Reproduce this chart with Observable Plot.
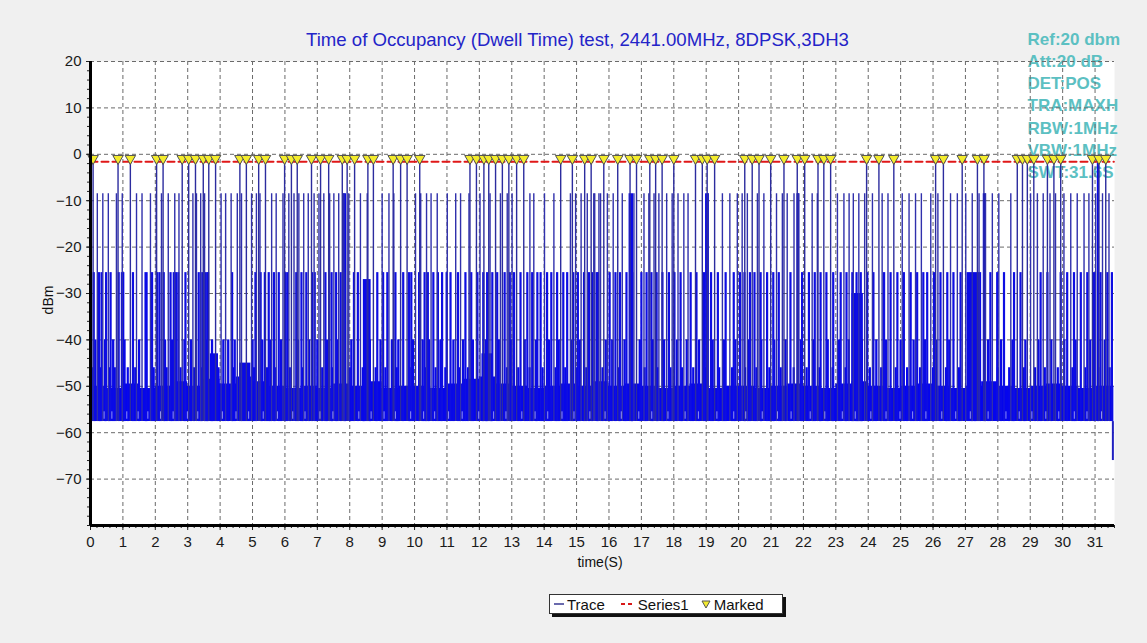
<!DOCTYPE html>
<html><head><meta charset="utf-8">
<script src="https://cdn.jsdelivr.net/npm/d3@7"></script>
<script src="https://cdn.jsdelivr.net/npm/@observablehq/plot@0.6"></script>
<style>
html,body{margin:0;padding:0;background:#f0f0f0;}
#wrap{position:relative;width:1147px;height:643px;overflow:hidden;font-family:"Liberation Sans",Arial,sans-serif;}
#chart{position:absolute;left:0;top:0;}
#title{position:absolute;left:0;top:29px;width:1155px;text-align:center;font-size:18.6px;color:#2424c8;white-space:nowrap;}
#xlab{position:absolute;left:0;width:1200px;top:554px;text-align:center;font-size:14px;color:#111;}
#ylab{position:absolute;left:48px;top:300px;transform:translate(-50%,-50%) rotate(-90deg);font-size:14px;color:#111;}
#legend{position:absolute;left:549px;top:594px;width:232px;height:18px;background:#fff;border:1px solid #333;box-shadow:3px 3px 0 #111;font-size:15px;color:#111;display:flex;align-items:center;}
#legend span{display:inline-flex;align-items:center;margin-left:4px;}
#legend svg{margin-right:3px;}
</style></head><body>
<div id="wrap">
<div id="chart"></div>
<div id="title">Time of Occupancy (Dwell Time) test, 2441.00MHz, 8DPSK,3DH3</div>
<div id="xlab">time(S)</div>
<div id="ylab">dBm</div>
<div id="legend">
 <span><svg width="10" height="10"><line x1="0" y1="5" x2="10" y2="5" stroke="#1a1a80" stroke-width="1.3"/></svg>Trace</span>
 <span style="margin-left:16px"><svg width="14" height="10"><line x1="0" y1="5" x2="14" y2="5" stroke="#d81818" stroke-width="2" stroke-dasharray="4,3"/></svg>Series1</span>
 <span style="margin-left:12px"><svg width="10" height="10"><path d="M1,2 L9,2 L5,9 Z" fill="#f2ea30" stroke="#555" stroke-width="1"/></svg>Marked</span>
</div>
</div>
<script>
// ---------- data ----------
const xTicks = [0,1,2,3,4,5,6,7,8,9,10,11,12,13,14,15,16,17,18,19,20,21,22,23,24,25,26,27,28,29,30,31];
const yTicks = [-70,-60,-50,-40,-30,-20,-10,0,10,20];
const infoLines = ["Ref:20 dbm","Att:20 dB","DET:POS","TRA:MAXH","RBW:1MHz","VBW:1MHz","SWT:31.6S"];

// pulses flagged by the marker (peak about -1.5 dBm)
const markedT = [0.08,0.85,1.23,2.04,2.24,2.83,3.03,3.24,3.48,3.65,3.86,4.61,4.81,5.19,5.40,5.99,6.20,6.38,6.82,7.10,7.35,7.77,7.92,8.15,8.56,8.73,9.34,9.57,9.77,10.16,
 11.71,11.91,12.14,12.29,12.50,12.71,12.91,13.15,13.37,14.51,14.87,15.25,15.45,15.84,16.27,16.65,16.85,17.26,17.44,17.64,18.00,18.67,18.88,19.03,19.26,20.19,20.42,20.63,20.99,21.40,21.81,
 22.04,22.45,22.63,22.84,23.95,24.33,24.79,26.08,26.32,26.90,27.37,27.57,28.60,28.76,28.91,29.11,29.53,29.73,29.94,30.92,31.12,31.33];
const markedPeak = -1.6;
const series1T = [0, 31.58];
const series1V = [-1.6, -1.6];

// pulses reaching about -8.5 dBm
const pulse8T = [0.21,0.38,0.55,0.80,0.98,1.42,1.59,1.85,2.03,2.19,2.40,2.60,2.73,3.16,3.27,3.40,3.52,4.03,4.17,4.34,4.53,4.66,4.97,5.12,5.23,5.59,5.73,5.94,6.12,6.28,6.43,6.58,6.72,6.90,7.05,7.20,7.38,7.51,7.66,
 7.82,7.97,8.33,8.54,9.00,9.21,9.36,10.03,10.19,10.37,10.51,10.70,11.01,11.27,11.42,11.68,12.02,12.33,12.65,12.86,13.01,13.56,13.68,14.01,14.30,14.81,14.97,15.14,15.33,15.53,15.69,
 15.56,15.74,15.95,16.13,16.41,16.77,17.08,17.23,17.39,17.54,17.78,17.95,18.13,18.31,18.44,19.05,19.50,19.73,19.96,20.11,20.27,20.58,20.78,21.17,21.35,21.50,21.71,21.86,22.27,22.43,23.05,23.25,23.41,
 23.54,23.71,23.89,24.13,24.43,24.61,25.05,25.26,25.46,25.64,25.93,26.15,26.54,26.75,27.01,27.21,27.42,27.62,27.83,28.03,28.40,29.01,29.22,29.40,29.61,29.78,30.04,30.25,30.45,30.66,30.81,31.02,31.23,31.43];
const peak8 = -8.5;

// pulses reaching about -25.5 dBm
const pulse25T = [0.10,0.26,0.34,0.48,0.62,0.87,1.31,1.90,2.06,2.13,2.26,2.47,2.57,2.64,2.71,2.93,3.34,3.45,3.53,3.60,4.37,5.09,5.25,5.38,5.50,5.66,5.81,6.00,6.07,6.35,6.51,6.66,6.84,6.92,7.25,7.44,7.58,7.72,7.85,
 8.13,8.25,8.85,9.03,9.16,9.41,9.65,9.83,9.90,10.14,10.31,10.41,10.58,10.72,10.85,10.99,11.11,11.34,11.57,11.75,11.94,12.12,12.24,12.40,12.55,12.78,12.94,13.07,13.27,13.48,13.63,13.79,13.89,14.09,14.22,14.40,14.59,14.71,14.90,15.04,15.23,15.38,15.62,
 15.48,15.66,16.02,16.20,16.34,16.54,16.72,17.00,17.16,17.31,17.47,17.65,17.85,18.02,18.21,18.52,18.70,18.93,19.15,19.36,19.60,19.85,20.04,20.18,20.35,20.49,20.68,20.88,21.07,21.24,21.60,21.96,22.17,22.35,22.53,22.71,22.92,23.15,23.33,
 23.51,23.64,23.77,23.97,24.16,24.49,24.69,24.90,25.10,25.31,25.51,25.70,25.82,26.03,26.23,26.44,26.63,26.85,27.77,27.98,28.19,28.50,28.70,29.32,29.53,29.94,30.14,30.35,30.56,30.76,30.97,31.17,31.38,31.52];
const peak25 = -25.5;

// pulses reaching about -40 dBm
const pulse40T = [0.15,0.45,0.70,1.05,1.50,1.72,2.30,2.52,2.90,3.10,3.58,3.75,4.10,4.25,4.45,5.00,5.30,5.55,5.88,6.40,6.75,7.00,7.30,7.62,8.05,8.45,8.62,8.95,9.30,9.50,9.95,10.25,10.45,10.80,11.20,11.50,11.80,12.20,12.60,12.98,13.40,13.75,14.15,14.45,14.85,15.10,
 15.90,16.10,16.48,16.95,17.35,17.70,18.10,18.40,18.78,19.20,19.55,19.90,20.30,20.70,21.10,21.45,21.92,22.30,22.75,23.10,23.40,23.80,24.25,24.55,25.00,25.40,25.75,26.10,26.50,27.30,27.70,28.10,28.45,28.85,29.25,29.65,30.05,30.40,30.85,31.30];
const peak40 = -40;

// small noise spikes reaching about -46 dBm
const spike46T = [0.05,0.30,0.58,0.75,1.15,1.38,1.95,2.35,2.78,3.20,3.42,3.95,4.40,5.05,5.45,5.70,6.15,6.55,7.15,7.45,8.00,8.40,8.80,9.10,9.45,9.85,10.35,10.65,10.95,11.40,11.65,12.35,12.85,13.20,13.55,13.95,14.35,14.65,15.00,15.30,15.80,16.30,16.70,17.10,17.50,17.90,18.25,18.60,19.00,19.40,19.80,20.20,20.55,20.95,21.30,21.70,22.10,22.50,22.90,23.30,23.70,24.05,24.40,24.85,25.20,25.60,26.00,26.40,26.80,27.20,27.60,28.00,28.35,28.80,29.15,29.45,29.85,30.30,30.70,31.10,31.45];
const peak46 = -46;

// short drop-outs inside the noise band (trace dips to about -55.5 dBm)
const dipT = [0.42,0.66,1.12,1.47,1.77,2.16,2.55,2.99,3.31,4.07,4.49,4.88,5.33,5.77,6.24,6.62,7.08,7.48,8.28,8.66,9.06,9.41,9.88,10.28,10.62,11.05,11.47,11.98,12.44,12.82,13.31,13.72,14.11,14.55,14.92,15.41,15.88,16.38,16.92,17.32,17.82,18.35,18.76,19.33,19.85,20.22,20.73,21.20,21.62,22.21,22.66,23.20,23.60,24.08,24.55,24.98,25.37,25.78,26.27,26.70,27.15,27.70,28.25,28.66,29.05,29.48,29.88,30.36,30.75,31.20];
const dipV = -55.5;

// dense bursts (start s, end s, top dBm)
const burstStart = [0.95,1.68,3.62,3.70,4.60,7.80,8.42,12.08,16.62,18.98,21.80,23.50,27.05,27.55,31.07];
const burstEnd   = [1.06,1.78,3.68,3.95,4.95,7.90,8.66,12.42,16.76,19.10,21.88,23.85,27.50,27.64,31.14];
const burstTop   = [-25.5,-25.5,-25.5,-43,-45,-8.5,-27,-43,-8.5,-8.5,-8.5,-30,-25.5,-8.5,-1.6];

// noise floor band: top edge sampled every half second
const noiseT   = [0,0.5,1,1.5,2,2.5,3,3.5,4,4.5,5,5.5,6,6.5,7,7.5,8,8.5,9,9.5,10,10.5,11,11.5,12,12.5,13,13.5,14,14.5,15,15.5,16,16.5,17,17.5,18,18.5,19,19.5,20,20.5,21,21.5,22,22.5,23,23.5,24,24.5,25,25.5,26,26.5,27,27.5,28,28.5,29,29.5,30,30.5,31,31.58];
const noiseTop = [-50,-50.5,-49.5,-50.5,-50,-49,-50,-48.5,-49.5,-48,-49,-50,-50.5,-50,-50.5,-49.5,-50,-49,-50.5,-50,-50,-50.5,-49.5,-48.5,-48,-49.5,-50,-50.5,-50,-49.5,-50,-49,-50,-49.5,-50,-50.5,-50,-49.5,-50.5,-50,-50,-50.5,-50,-49.5,-50,-50.5,-49.5,-49,-50,-50.5,-50,-49.5,-50,-50.5,-50,-49,-50,-50.5,-50,-49.5,-50,-50.5,-50,-50];
const floorLevel = -57.6;
const endDropT = [31.55];
const endDropV = [-66];

// ---------- drawing ----------
const bursts = burstStart.map((s,i)=>({s, e:burstEnd[i], top:burstTop[i]}));
const noise = noiseT.map((t,i)=>({t, v:noiseTop[i]}));
const series1 = series1T.map((t,i)=>({t, v:series1V[i]}));
const xMinor = d3.range(0, 31.61, 0.2);
const yMinor = d3.range(-80, 20.01, 2);
const dash = {stroke:"#6a6a6a", strokeOpacity:1, strokeWidth:1, strokeDasharray:"4,3"};

const chart = Plot.plot({
  width:1147, height:643,
  marginLeft:90, marginRight:33, marginTop:61, marginBottom:118,
  style:{background:"transparent", fontFamily:"Liberation Sans, Arial, sans-serif", fontSize:"15px", color:"#1a1a1a", overflow:"visible"},
  x:{domain:[0,31.6]},
  y:{domain:[-80,20]},
  marks:[
    Plot.frame({fill:"white", stroke:null}),
    Plot.text([infoLines.join("\n")], {frameAnchor:"top-right", dx:-87, dy:-32, textAnchor:"start", lineAnchor:"top", lineHeight:1.3,
      fill:"#5cc0c2", fontSize:17, fontWeight:"bold", stroke:null, style:"letter-spacing:1.1px"}),
    Plot.gridX(xTicks.slice(1), {...dash}),
    Plot.gridY(yTicks, {...dash}),
    Plot.areaY(noise, {x:"t", y1:floorLevel, y2:"v", curve:"step-after", fill:"#0505ee"}),
    Plot.ruleX(spike46T, {x:d=>d, y1:floorLevel, y2:peak46, stroke:"#0808ea", strokeWidth:2.2}),
    Plot.rect(bursts, {x1:"s", x2:"e", y1:floorLevel, y2:"top", fill:"#0a0ae6"}),
    Plot.ruleX(pulse40T, {x:d=>d, y1:floorLevel, y2:peak40, stroke:"#0a0ae6", strokeWidth:2.3}),
    Plot.ruleX(pulse25T, {x:d=>d, y1:floorLevel, y2:peak25, stroke:"#0e0ee2", strokeWidth:2.2}),
    Plot.ruleX(pulse8T, {x:d=>d, y1:floorLevel, y2:peak8, stroke:"#3030ac", strokeWidth:1.4}),
    Plot.ruleX(markedT, {x:d=>d, y1:floorLevel, y2:markedPeak, stroke:"#2c2c9e", strokeWidth:1.4}),
    Plot.ruleX(dipT, {x:d=>d, y1:floorLevel+0.5, y2:dipV, stroke:"#ffffff", strokeOpacity:0.55, strokeWidth:1}),
    Plot.ruleX(endDropT, {x:d=>d, y1:floorLevel, y2:d=>endDropV[0], stroke:"#2020c0", strokeWidth:2}),
    Plot.lineY(series1, {x:"t", y:"v", stroke:"#e01818", strokeWidth:2, strokeDasharray:"7,4"}),
    Plot.dot(markedT, {x:d=>d, y:-0.9, symbol:"triangle", rotate:180, r:3.9, fill:"#f4ec2c", stroke:"#505050", strokeWidth:1}),
    Plot.axisX(xMinor, {tickSize:3, text:null, stroke:"#222"}),
    Plot.axisX(xTicks, {tickSize:5, tickPadding:6, label:null, stroke:"#222"}),
    Plot.axisY(yMinor, {tickSize:3, text:null, stroke:"#222"}),
    Plot.axisY(yTicks, {tickSize:4, tickPadding:5, label:null, stroke:"#222"}),
    Plot.ruleX([0], {stroke:"#000", strokeWidth:3}),
    Plot.ruleY([-80], {stroke:"#000", strokeWidth:3})
  ]
});
document.getElementById("chart").appendChild(chart);
</script>
</body></html>
